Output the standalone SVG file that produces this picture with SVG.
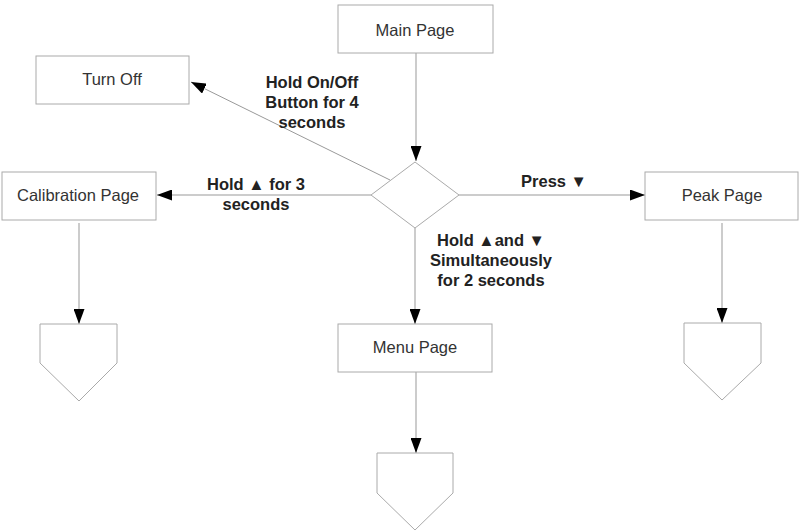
<svg xmlns="http://www.w3.org/2000/svg" width="799" height="531" viewBox="0 0 799 531">
<style>
.box{fill:#fff;stroke:#aaa;stroke-width:1}
.nt{font-family:"Liberation Sans",Arial,sans-serif;font-size:16.5px;fill:#333;text-anchor:middle}
.lb{font-family:"Liberation Sans",Arial,sans-serif;font-size:16.5px;font-weight:bold;fill:#222;text-anchor:middle}
.c{fill:none;stroke:#999;stroke-width:1;marker-end:url(#ah)}
</style>
<defs>
<marker id="ah" viewBox="0 0 15 11" refX="15" refY="5.5" markerWidth="15" markerHeight="11" markerUnits="userSpaceOnUse" orient="auto">
<path d="M0,0 L15,5.5 L0,11 Z" fill="#000"/>
</marker>
</defs>
<rect width="799" height="531" fill="#fff"/>
<g id="connectors">
<line class="c" x1="416" y1="53" x2="416" y2="161"/>
<line class="c" x1="390" y1="180" x2="191" y2="82"/>
<line class="c" x1="371" y1="195" x2="157" y2="195"/>
<line class="c" x1="459" y1="195" x2="645" y2="195"/>
<line class="c" x1="415" y1="228" x2="415" y2="324"/>
<line class="c" x1="79" y1="223" x2="79" y2="324"/>
<line class="c" x1="722" y1="223" x2="722" y2="323"/>
<line class="c" x1="416" y1="372" x2="416" y2="453"/>
</g>
<g id="labels">
<text class="lb" x="312" y="88">Hold On/Off</text>
<text class="lb" x="312" y="108">Button for 4</text>
<text class="lb" x="312" y="128">seconds</text>
<text class="lb" x="256" y="190">Hold ▲ for 3</text>
<text class="lb" x="256" y="210">seconds</text>
<text class="lb" x="554" y="187">Press ▼</text>
<text class="lb" x="491" y="246">Hold ▲and ▼</text>
<text class="lb" x="491" y="266">Simultaneously</text>
<text class="lb" x="491" y="286">for 2 seconds</text>
</g>
<g id="main"><rect class="box" x="338" y="5" width="155" height="48"/><text class="nt" x="415" y="36">Main Page</text></g>
<g id="turnoff"><rect class="box" x="36" y="56" width="153" height="48"/><text class="nt" x="112" y="85">Turn Off</text></g>
<g id="decision"><polygon class="box" points="415,162 459,195 415,228 371,195"/></g>
<g id="calibration"><rect class="box" x="2" y="172" width="154" height="48"/><text class="nt" x="78" y="201">Calibration Page</text></g>
<g id="peak"><rect class="box" x="645" y="172" width="153" height="48"/><text class="nt" x="722" y="201">Peak Page</text></g>
<g id="menu"><rect class="box" x="338" y="324" width="154" height="48"/><text class="nt" x="415" y="353">Menu Page</text></g>
<g id="off-cal"><polygon class="box" points="40,324 117,324 117,363 79,401 40,363"/></g>
<g id="off-peak"><polygon class="box" points="684,323 761,323 761,363 722,400 684,363"/></g>
<g id="off-menu"><polygon class="box" points="377,453 453,453 453,493 415,530 377,493"/></g>
</svg>
